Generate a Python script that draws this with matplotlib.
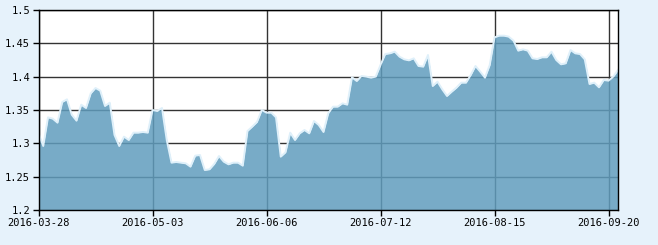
import matplotlib
matplotlib.use('Agg')
import matplotlib.pyplot as plt

# one value per trading day, 2016-03-28 .. 2016-09-22
values = [
    1.315, 1.296, 1.339, 1.337, 1.331, 1.362, 1.366, 1.343, 1.334, 1.358,
    1.353, 1.375, 1.383, 1.379, 1.356, 1.361, 1.3125, 1.296, 1.310, 1.305,
    1.316, 1.316, 1.317, 1.316, 1.350, 1.3485, 1.353, 1.305, 1.271, 1.272,
    1.271, 1.270, 1.265, 1.2815, 1.2825, 1.260, 1.261, 1.269, 1.281, 1.2725,
    1.2685, 1.271, 1.271, 1.2665, 1.3185, 1.325, 1.332, 1.350, 1.346, 1.346,
    1.339, 1.280, 1.2865, 1.316, 1.305, 1.315, 1.320, 1.315, 1.3335, 1.3275,
    1.317, 1.345, 1.355, 1.355, 1.360, 1.358, 1.399, 1.3935, 1.401, 1.400,
    1.3985, 1.400, 1.4175, 1.434, 1.435, 1.4375, 1.430, 1.426, 1.4245, 1.4275,
    1.416, 1.415, 1.4325, 1.386, 1.3925, 1.381, 1.371, 1.3775, 1.3835, 1.391,
    1.391, 1.4025, 1.416, 1.4075, 1.3985, 1.4175, 1.459, 1.4615, 1.4615, 1.460,
    1.454, 1.439, 1.441, 1.439, 1.4275, 1.4265, 1.429, 1.429, 1.4375, 1.425,
    1.4185, 1.420, 1.440, 1.435, 1.434, 1.426, 1.389, 1.391, 1.384, 1.395,
    1.394, 1.400, 1.410,
]
tick_labels = ['2016-03-28', '2016-05-03', '2016-06-06', '2016-07-12',
               '2016-08-15', '2016-09-20']
tick_step = 24
y_ticks = [1.2, 1.25, 1.3, 1.35, 1.4, 1.45, 1.5]

x = list(range(len(values)))

fig = plt.figure(figsize=(6.58, 2.45), dpi=100, facecolor='#e6f2fb')
ax = fig.add_axes([38.5 / 658, 35 / 245, (618 - 38.5) / 658, 200 / 245])
ax.set_facecolor('white')

ax.fill_between(x, values, 1.2, color='#609dbd', alpha=0.85, lw=0, zorder=3)
ax.plot(x, values, color='#dff0fa', lw=1.4, zorder=4)

ax.set_xlim(0, len(values) - 1)
ax.set_ylim(1.2, 1.5)
ax.set_xticks([i * tick_step for i in range(len(tick_labels))])
ax.set_xticklabels(tick_labels)
ax.set_yticks(y_ticks)
ax.set_yticklabels([('%g' % v) for v in y_ticks])

ax.grid(True, color='#333333', lw=1, zorder=1)
ax.set_axisbelow(True)
for s in ax.spines.values():
    s.set_color('black')
    s.set_linewidth(1)
    s.set_zorder(5)

ax.tick_params(direction='out', length=4, width=1, color='black',
               labelsize=7.5, pad=2)
for lab in ax.get_xticklabels() + ax.get_yticklabels():
    lab.set_family('DejaVu Sans Mono')

fig.savefig('out.png', dpi=100, facecolor=fig.get_facecolor())
